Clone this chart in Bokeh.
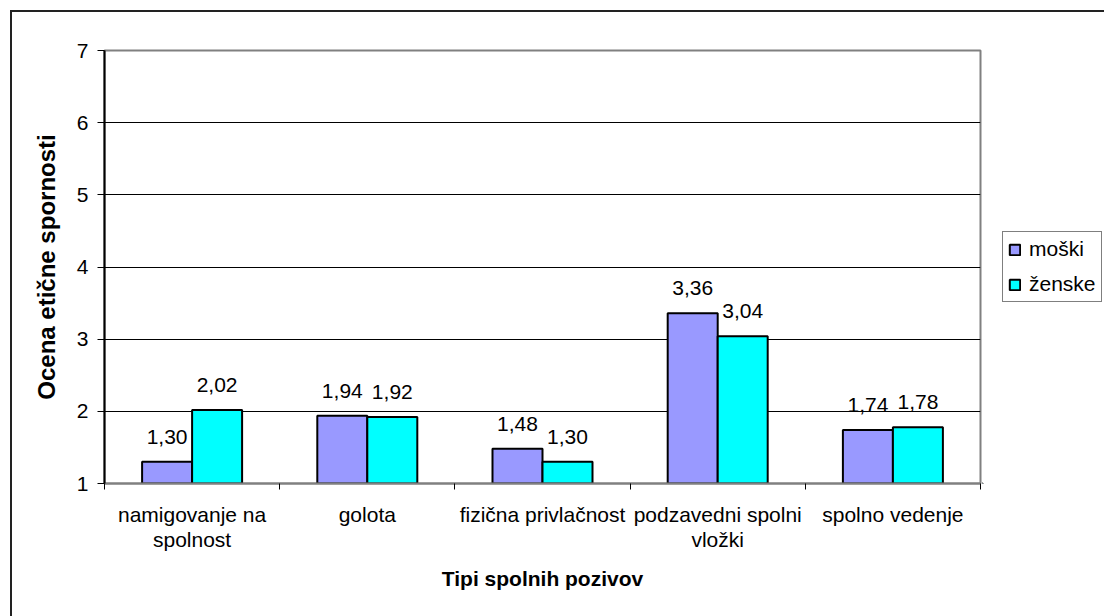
from bokeh.plotting import figure
from bokeh.layouts import row
from bokeh.models import (ColumnDataSource, Range1d, FixedTicker, Legend, LegendItem,
                          InlineStyleSheet)
from bokeh.core.properties import value
from bokeh.transform import dodge
from bokeh.embed import file_html
from bokeh.resources import INLINE

# Data
categories = ["namigovanje na\nspolnost", "golota", "fizična privlačnost",
              "podzavedni spolni\nvložki", "spolno vedenje"]
series_names = ["moški", "ženske"]
moski = [1.30, 1.94, 1.48, 3.36, 1.74]
zenske = [2.02, 1.92, 1.30, 3.04, 1.78]
y_ticks = [1, 2, 3, 4, 5, 6, 7]

FONT = "Liberation Sans"
BAR_W = 0.2854
C_M, C_Z = "#9999FF", "#00FFFF"

def fmt(v):
    return f"{v:.2f}".replace(".", ",")

centers = [i + 0.5 for i in range(len(categories))]
src = ColumnDataSource(dict(
    x=centers,
    moski=moski, zenske=zenske,
    moski_lbl=[fmt(v) for v in moski],
    zenske_lbl=[fmt(v) for v in zenske],
))

# main chart
p = figure(width=982, height=616, output_backend="svg", toolbar_location=None,
           x_range=Range1d(0, len(categories)), y_range=Range1d(1, 7),
           min_border_left=104, min_border_right=2,
           min_border_top=50, min_border_bottom=133)
p.background_fill_color = "white"
p.border_fill_color = "white"
p.outline_line_color = "#808080"
p.outline_line_width = 2

p.xgrid.visible = False
p.ygrid.ticker = FixedTicker(ticks=[2, 3, 4, 5, 6])
p.ygrid.grid_line_color = "#000000"
p.ygrid.grid_line_width = 1

bar_style = dict(line_color="#000000", line_width=2)
p.vbar(x=dodge("x", -BAR_W / 2, range=p.x_range), top="moski", bottom=1,
       width=BAR_W, source=src, fill_color=C_M, **bar_style)
p.vbar(x=dodge("x", BAR_W / 2, range=p.x_range), top="zenske", bottom=1,
       width=BAR_W, source=src, fill_color=C_Z, **bar_style)

# value labels above the bars
for col, lbl, off in (("moski", "moski_lbl", -BAR_W / 2), ("zenske", "zenske_lbl", BAR_W / 2)):
    p.text(x=dodge("x", off, range=p.x_range), y=col, text=lbl, source=src,
           text_align="center", text_baseline="alphabetic", y_offset=-25,
           text_font=value(FONT), text_font_size="21px", text_color="#000000")

# y axis
ya = p.yaxis[0]
ya.ticker = FixedTicker(ticks=y_ticks)
ya.axis_label = "Ocena etične spornosti"
ya.axis_label_text_font = FONT
ya.axis_label_text_font_style = "bold"
ya.axis_label_text_font_size = "24px"
ya.axis_label_text_color = "#000000"
ya.axis_label_standoff = 14
ya.major_label_text_font = FONT
ya.major_label_text_font_size = "21px"
ya.major_label_text_color = "#000000"
ya.major_label_standoff = 9
ya.major_tick_out = 7
ya.major_tick_in = 0
ya.major_tick_line_color = "#000000"
ya.minor_tick_line_color = None
ya.axis_line_color = "#000000"
ya.axis_line_width = 2

# x axis: labels at category centres, ticks at category boundaries
xa = p.xaxis[0]
xa.ticker = FixedTicker(ticks=centers, minor_ticks=list(range(len(categories) + 1)))
xa.major_label_overrides = {c: lab for c, lab in zip(centers, categories)}
xa.major_tick_line_color = None
xa.major_tick_out = 0
xa.major_tick_in = 0
xa.minor_tick_out = 6
xa.minor_tick_in = 0
xa.minor_tick_line_color = "#000000"
xa.axis_line_color = "#808080"
xa.axis_line_width = 2
xa.major_label_text_font = FONT
xa.major_label_text_font_size = "21px"
xa.major_label_text_color = "#000000"
xa.major_label_text_line_height = 1.12
xa.major_label_standoff = 13
xa.axis_label = "Tipi spolnih pozivov"
xa.axis_label_text_font = FONT
xa.axis_label_text_font_style = "bold"
xa.axis_label_text_font_size = "21px"
xa.axis_label_text_color = "#000000"
xa.axis_label_standoff = 13

# legend panel to the right of the chart
q = figure(width=122, height=616, output_backend="svg", toolbar_location=None,
           x_range=Range1d(0, 1), y_range=Range1d(0, 1),
           x_axis_type=None, y_axis_type=None, min_border=0)
q.outline_line_color = None
q.grid.visible = False
q.background_fill_color = "white"
q.border_fill_color = "white"
# swatch renderers placed far outside the visible range; only their legend glyphs show
lm = q.vbar(x=[-50], top=[-50], bottom=[-51], width=0.1, fill_color=C_M, **bar_style)
lz = q.vbar(x=[-50], top=[-50], bottom=[-51], width=0.1, fill_color=C_Z, **bar_style)
legend = Legend(items=[LegendItem(label=series_names[0], renderers=[lm]),
                       LegendItem(label=series_names[1], renderers=[lz])],
                location=(20, 181), orientation="vertical",
                label_text_font=FONT, label_text_font_size="21px",
                label_text_color="#000000",
                glyph_width=13, glyph_height=13, label_height=21,
                label_standoff=8, spacing=11, padding=5, margin=0,
                border_line_color="#000000", border_line_width=1,
                background_fill_color="white", background_fill_alpha=1)
q.add_layout(legend, "center")

layout = row(p, q, spacing=0)
# outer chart border (only its left and top edges fall inside the window)
layout.stylesheets = [InlineStyleSheet(css="""
:host { position: relative; }
:host::after {
  content: ""; position: absolute; left: 10px; top: 10px;
  width: 2000px; height: 2000px;
  border-left: 2px solid #222; border-top: 2px solid #222;
  pointer-events: none;
}
""")]

open("out.html", "w").write(file_html(layout, INLINE))
